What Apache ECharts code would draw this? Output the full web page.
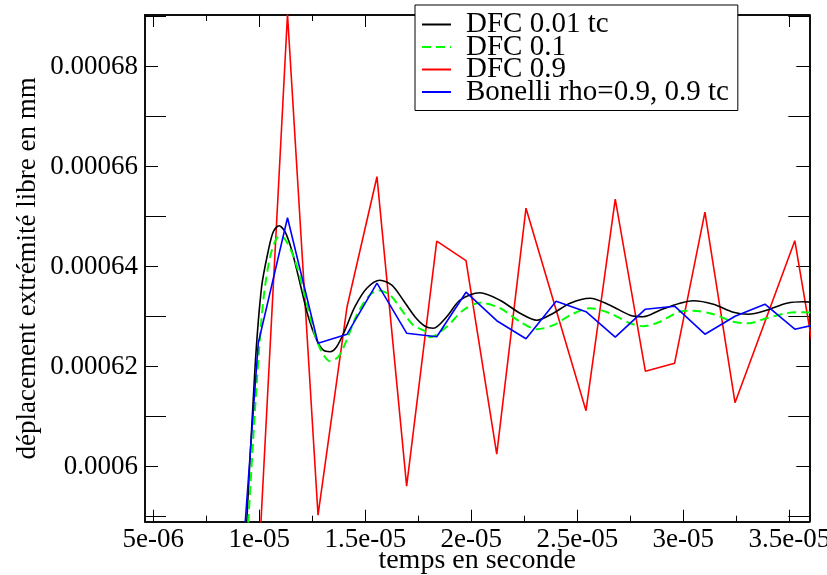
<!DOCTYPE html>
<html>
<head>
<meta charset="utf-8">
<script src="https://cdn.jsdelivr.net/npm/echarts@6/dist/echarts.min.js"></script>
<style>
html,body{margin:0;padding:0;background:#fff;}
#chart{width:827px;height:575px;}
</style>
</head>
<body>
<div id="chart"></div>
<script>
// ---- tick labels ----
const xMajor = [5e-6, 1e-5, 1.5e-5, 2e-5, 2.5e-5, 3e-5, 3.5e-5];
const xLabels = ['5e-06', '1e-05', '1.5e-05', '2e-05', '2.5e-05', '3e-05', '3.5e-05'];
const xMinor = [7.5e-6, 1.25e-5, 1.75e-5, 2.25e-5, 2.75e-5, 3.25e-5];
const yMajor = [0.0006, 0.00062, 0.00064, 0.00066, 0.00068];
const yLabels = ['0.0006', '0.00062', '0.00064', '0.00066', '0.00068'];
const yMinor = [0.00059, 0.00061, 0.00063, 0.00065, 0.00067, 0.00069];

// ---- series names ----
const seriesNames = ['DFC 0.01 tc', 'DFC 0.1', 'DFC 0.9', 'Bonelli rho=0.9, 0.9 tc'];

// ---- DFC 0.01 tc (black) ----
const tBlack = [9.14e-6, 9.41e-6, 9.80e-6, 10.11e-6, 10.43e-6, 10.66e-6, 10.93e-6, 11.21e-6, 11.53e-6, 11.92e-6,
  12.31e-6, 12.71e-6, 13.02e-6, 13.34e-6, 13.65e-6, 14.04e-6, 14.51e-6, 15.07e-6, 15.69e-6, 16.25e-6,
  16.79e-6, 17.34e-6, 17.82e-6, 18.21e-6, 18.84e-6, 19.47e-6, 20.41e-6, 21.35e-6, 22.30e-6, 23.09e-6,
  23.87e-6, 24.66e-6, 25.60e-6, 26.54e-6, 27.49e-6, 28.11e-6, 28.90e-6, 29.84e-6, 30.47e-6, 31.42e-6,
  32.36e-6, 33.07e-6, 33.93e-6, 34.88e-6, 35.66e-6, 36.07e-6];
const vBlack = [0.0005677, 0.000589, 0.00062, 0.000636, 0.0006433, 0.000647, 0.0006482, 0.000647, 0.0006433, 0.0006367,
  0.00063, 0.0006253, 0.0006233, 0.000623, 0.000624, 0.0006273, 0.000632, 0.0006357, 0.0006373, 0.0006363,
  0.0006333, 0.00063, 0.0006281, 0.0006277, 0.00063, 0.0006333, 0.0006348, 0.0006333, 0.0006307, 0.0006293,
  0.0006307, 0.0006327, 0.0006337, 0.0006323, 0.0006303, 0.00063, 0.0006313, 0.0006327, 0.0006332, 0.0006325,
  0.0006309, 0.0006305, 0.0006313, 0.0006327, 0.000633, 0.0006329];

// ---- DFC 0.1 (green dashed) ----
const tGreen = [9.20e-6, 9.48e-6, 9.88e-6, 10.19e-6, 10.51e-6, 10.82e-6, 11.02e-6, 11.29e-6, 11.68e-6, 12.08e-6,
  12.47e-6, 12.86e-6, 13.34e-6, 13.73e-6, 14.12e-6, 14.59e-6, 15.14e-6, 15.61e-6, 16.17e-6, 16.72e-6,
  17.26e-6, 17.82e-6, 18.05e-6, 18.84e-6, 19.62e-6, 20.41e-6, 21.35e-6, 22.30e-6, 23.09e-6, 23.87e-6,
  24.66e-6, 25.60e-6, 26.54e-6, 27.49e-6, 28.11e-6, 28.90e-6, 29.84e-6, 30.47e-6, 31.42e-6, 32.36e-6,
  33.07e-6, 33.93e-6, 34.88e-6, 35.66e-6, 36.07e-6];
const vGreen = [0.0005692, 0.000589, 0.0006167, 0.0006333, 0.000642, 0.0006457, 0.0006461, 0.000645, 0.0006413, 0.0006353,
  0.0006287, 0.0006237, 0.0006211, 0.000622, 0.0006253, 0.0006303, 0.000634, 0.0006353, 0.0006343, 0.0006313,
  0.0006283, 0.0006271, 0.0006259, 0.000628, 0.0006313, 0.0006328, 0.0006317, 0.000629, 0.0006275, 0.0006283,
  0.0006303, 0.0006317, 0.0006307, 0.0006287, 0.0006281, 0.000629, 0.000631, 0.0006312, 0.0006305, 0.000629,
  0.0006287, 0.0006297, 0.0006307, 0.0006309, 0.0006308];

// ---- DFC 0.9 (red) ----
const tRed = [9.95e-6, 11.33e-6, 12.77e-6, 14.14e-6, 15.55e-6, 16.95e-6, 18.37e-6, 19.75e-6, 21.20e-6, 22.58e-6,
  25.41e-6, 26.79e-6, 28.21e-6, 29.59e-6, 31.02e-6, 32.44e-6, 35.26e-6, 36.66e-6];
const vRed = [0.0005786, 0.0006905, 0.0005903, 0.000632, 0.000658, 0.0005961, 0.0006451, 0.0006412, 0.0006025, 0.0006517,
  0.0006112, 0.0006535, 0.0006191, 0.0006207, 0.0006509, 0.0006128, 0.0006452, 0.0006101];

// ---- Bonelli rho=0.9, 0.9 tc (blue) ----
const tBlue = [8.55e-6, 9.95e-6, 11.33e-6, 12.77e-6, 14.14e-6, 15.55e-6, 16.95e-6, 18.37e-6, 19.75e-6, 21.20e-6,
  22.58e-6, 24.00e-6, 25.41e-6, 26.79e-6, 28.21e-6, 29.59e-6, 31.02e-6, 32.44e-6, 33.85e-6, 35.26e-6, 36.66e-6];
const vBlue = [0.000543, 0.0006247, 0.0006498, 0.0006247, 0.0006265, 0.0006367, 0.0006267, 0.000626, 0.0006349, 0.0006292,
  0.0006256, 0.0006331, 0.000631, 0.0006259, 0.0006315, 0.0006321, 0.0006265, 0.0006301, 0.0006325, 0.0006275, 0.0006288];

const X_MIN = 4.6085e-6, X_MAX = 3.5943e-5;
const Y_MIN = 0.000589, Y_MAX = 0.00069034;

const FONT = "'Liberation Serif', 'Times New Roman', serif";
const pair = (ts, vs) => ts.map((t, i) => [t, vs[i]]);
const lookup = (vals, labels) => v => {
  const i = vals.findIndex(m => Math.abs(m - v) < Math.abs(m) * 1e-6);
  return i >= 0 ? labels[i] : '';
};

const frameLine = {show: true, onZero: false, lineStyle: {color: '#000', width: 1.5}};
function xAx(pos, ticks, len, labels, extra) {
  return Object.assign({
    type: 'value', min: X_MIN, max: X_MAX, position: pos, gridIndex: 0,
    axisLine: frameLine,
    axisTick: {show: true, inside: true, length: len, customValues: ticks, lineStyle: {color: '#000', width: 1}},
    axisLabel: labels ? {show: true, customValues: ticks, formatter: lookup(xMajor, xLabels), margin: 5,
      fontFamily: FONT, fontSize: 27, color: '#000'} : {show: false},
    splitLine: {show: false}
  }, extra || {});
}
function yAx(pos, ticks, len, labels, extra) {
  return Object.assign({
    type: 'value', min: Y_MIN, max: Y_MAX, position: pos, gridIndex: 0,
    axisLine: frameLine,
    axisTick: {show: true, inside: true, length: len, customValues: ticks, lineStyle: {color: '#000', width: 1}},
    axisLabel: labels ? {show: true, customValues: ticks, formatter: lookup(yMajor, yLabels), margin: 7,
      fontFamily: FONT, fontSize: 27, color: '#000'} : {show: false},
    splitLine: {show: false}
  }, extra || {});
}

const chart = echarts.init(document.getElementById('chart'), null, {renderer: 'canvas'});
chart.setOption({
  animation: false,
  backgroundColor: '#fff',
  grid: {left: 145, top: 15, width: 664.3, height: 506.7, containLabel: false, outerBoundsMode: 'none'},
  legend: {
    data: seriesNames,
    orient: 'vertical',
    left: 415, top: 5,
    padding: [5, 9, 4, 6],
    itemWidth: 29, itemHeight: 14, itemGap: -6.5,
    itemStyle: {opacity: 0},
    backgroundColor: '#fff',
    borderColor: '#000', borderWidth: 1,
    textStyle: {fontFamily: FONT, fontSize: 29, color: '#000', padding: [0, 0, 0, 10]},
    z: 10
  },
  xAxis: [
    xAx('bottom', xMajor, 12, true, {
      name: 'temps en seconde', nameLocation: 'middle', nameGap: 25, nameMoveOverlap: false,
      nameTextStyle: {fontFamily: FONT, fontSize: 28, color: '#000'}
    }),
    xAx('bottom', xMinor, 6, false),
    xAx('top', xMajor, 12, false),
    xAx('top', xMinor, 6, false)
  ],
  yAxis: [
    yAx('left', yMajor, 13, true, {
      name: 'déplacement extrémité libre en mm', nameLocation: 'middle', nameGap: 104, nameMoveOverlap: false,
      nameTextStyle: {fontFamily: FONT, fontSize: 27, color: '#000'}
    }),
    yAx('left', yMinor, 21, false),
    yAx('right', yMajor, 13, false),
    yAx('right', yMinor, 21, false)
  ],
  series: [
    {name: seriesNames[0], type: 'line', data: pair(tBlack, vBlack), symbol: 'none', smooth: 0.3,
      lineStyle: {color: '#000', width: 1.6}, itemStyle: {color: '#000'}, z: 3},
    {name: seriesNames[1], type: 'line', data: pair(tGreen, vGreen), symbol: 'none', smooth: 0.3,
      lineStyle: {color: '#00ff00', width: 2, type: [9, 5]}, itemStyle: {color: '#00ff00'}, z: 4},
    {name: seriesNames[2], type: 'line', data: pair(tRed, vRed), symbol: 'none',
      lineStyle: {color: '#ff0000', width: 1.6}, itemStyle: {color: '#ff0000'}, z: 2},
    {name: seriesNames[3], type: 'line', data: pair(tBlue, vBlue), symbol: 'none',
      lineStyle: {color: '#0000ff', width: 1.6}, itemStyle: {color: '#0000ff'}, z: 5}
  ]
});
</script>
</body>
</html>
